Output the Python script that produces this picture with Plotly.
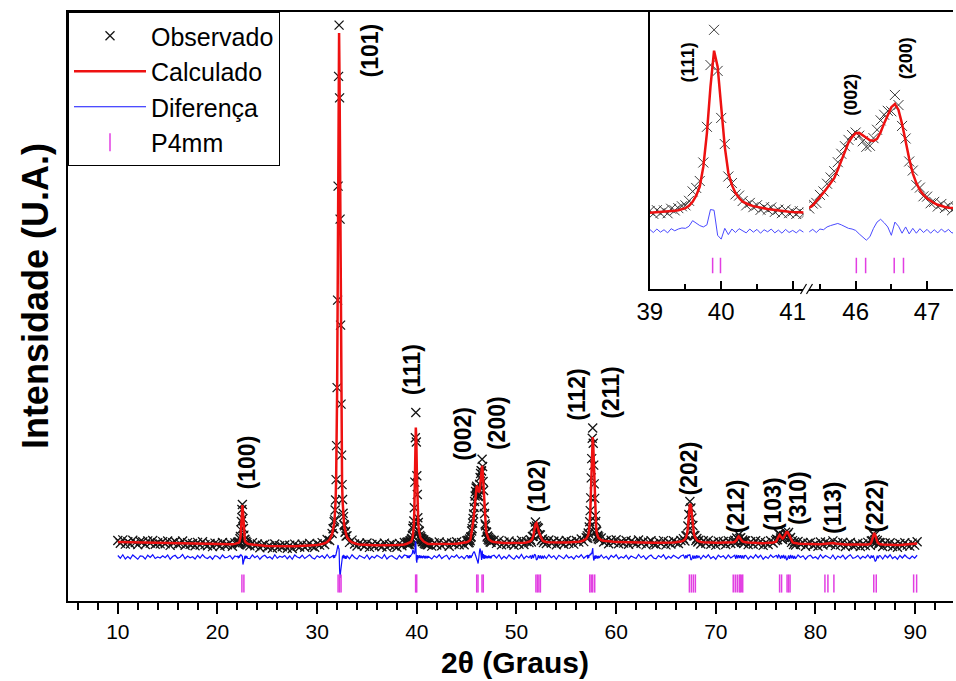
import numpy as np
import plotly.graph_objects as go

# ---------------- DATA ----------------
# Each block of the step scan: 2theta start/stop, observed counts, calculated counts
range_01 = (10.0, 22.0)
obs_01 = [990, 934, 1003, 917, 966, 920, 994, 948, 907, 971, 965, 909, 983, 937, 991, 915, 944, 923, 967, 926,
          980, 893, 947, 971, 909, 928, 981, 895, 948, 912, 930, 884, 952, 901, 964, 908, 886, 930, 868, 937,
          921, 875, 949, 894, 905, 942, 875, 942, 940]
calc_01 = [960, 959, 958, 957, 956, 955, 954, 953, 952, 951, 950, 949, 948, 947, 946, 945, 944, 943, 942, 941,
           940, 938, 937, 936, 934, 933, 931, 930, 928, 927, 925, 924, 922, 921, 919, 918, 916, 915, 913, 912,
           911, 910, 909, 909, 910, 912, 915, 922, 935]

range_02 = (22.05, 23.0)
obs_02 = [957, 908, 966, 944, 1025, 1072, 1202, 1369, 1610, 1710, 1430, 1229, 1097, 1012, 1010, 924, 976, 918, 947, 903]
calc_02 = [932, 938, 946, 959, 985, 1042, 1157, 1349, 1580, 1700, 1580, 1349, 1157, 1042, 985, 959, 946, 938, 932, 928]

range_03 = (23.25, 31.5)
obs_03 = [883, 946, 885, 920, 844, 896, 918, 860, 883, 836, 919, 847, 886, 865, 900, 835, 895, 830, 917, 878,
          860, 916, 854, 895, 933, 876, 855, 925, 898, 948, 909, 1010, 989, 1130]
calc_03 = [913, 906, 900, 895, 889, 886, 883, 880, 878, 876, 874, 872, 871, 870, 870, 870, 875, 875, 877, 878,
           880, 881, 884, 885, 888, 891, 895, 900, 908, 918, 934, 960, 1009, 1115]

range_04 = (31.6, 32.9)
obs_04 = [1226, 1228, 1365, 1402, 1599, 1801, 2208, 2888, 4047, 5798, 8077, 10273, 11298, 9843, 7417, 5298,
          3717, 2698, 2108, 1811, 1534, 1467, 1305, 1283, 1156, 1171, 1080]
calc_04 = [1196, 1253, 1325, 1422, 1564, 1781, 2148, 2798, 3897, 5598, 7837, 10093, 11138, 10093, 7837, 5598,
           3897, 2798, 2148, 1781, 1564, 1422, 1325, 1253, 1196, 1151, 1115]

range_05 = (33.0, 38.75)
obs_05 = [1083, 953, 997, 921, 879, 941, 911, 876, 939, 852, 911, 875, 929, 888, 864, 938, 853, 906, 922, 883,
          855, 932, 884, 949]
calc_05 = [1063, 988, 952, 931, 919, 911, 906, 901, 899, 897, 896, 895, 894, 893, 894, 893, 893, 896, 897, 898,
           900, 902, 904, 909]

range_06 = (39.0, 41.2)
obs_06 = [950, 908, 961, 919, 957, 916, 981, 957, 990, 1017, 1030, 1095, 1230, 1280, 1380, 1645, 2157, 3044,
          3550, 2960, 2285, 1910, 1444, 1350, 1187, 1170, 1092, 1030, 1065, 1004, 1031, 965, 1005, 967, 999,
          936, 968, 918, 968, 918, 944, 905, 946, 907, 925]
calc_06 = [925, 928, 931, 934, 937, 941, 946, 952, 960, 972, 990, 1025, 1080, 1170, 1300, 1585, 2067, 2734,
           3250, 3020, 2400, 1870, 1494, 1320, 1207, 1135, 1082, 1055, 1035, 1019, 1006, 995, 985, 977, 969,
           961, 953, 948, 943, 938, 934, 930, 926, 922, 920]

range_07 = (41.5, 45.0)
obs_07 = [878, 942, 901, 961, 886, 927, 953, 874, 941, 918, 966, 904, 949, 906, 983]
calc_07 = [918, 917, 916, 916, 916, 917, 918, 919, 921, 923, 926, 929, 934, 941, 953]

range_08 = (45.1, 47.5)
obs_08 = [992, 942, 993, 950, 1021, 985, 1055, 1065, 1180, 1230, 1340, 1430, 1520, 1650, 1770, 1880, 1970,
          2040, 2075, 2030, 1950, 1870, 1885, 1995, 2115, 2250, 2330, 2387, 2380, 2615, 2470, 2170, 1990,
          1660, 1530, 1320, 1285, 1160, 1155, 1060, 1080, 1013, 1050, 992, 1022, 960, 1004, 953, 988]
calc_08 = [962, 967, 973, 980, 986, 995, 1030, 1085, 1150, 1210, 1280, 1350, 1420, 1540, 1680, 1820, 1930,
           2010, 2065, 2070, 2040, 2000, 1965, 1955, 1985, 2080, 2210, 2327, 2440, 2485, 2400, 2200, 1930,
           1700, 1490, 1350, 1250, 1180, 1130, 1090, 1060, 1038, 1020, 1007, 997, 990, 984, 978, 973]

range_09 = (47.75, 51.25)
obs_09 = [995, 932, 992, 904, 957, 910, 979, 929, 894, 965, 916, 993, 911, 971, 947]
calc_09 = [960, 952, 947, 944, 942, 940, 939, 939, 939, 940, 941, 943, 946, 951, 962]

range_10 = (51.4, 52.8)
obs_10 = [1005, 960, 1070, 1075, 1260, 1360, 1280, 1250, 1235, 1105, 1100, 990, 1020, 948, 988]
calc_10 = [975, 995, 1030, 1095, 1210, 1320, 1340, 1290, 1200, 1130, 1070, 1025, 995, 978, 968]

range_11 = (53.0, 57.0)
obs_11 = [930, 1000, 937, 975, 904, 984, 944, 915, 991, 932, 964, 917, 991, 957, 1021, 967, 1045]
calc_11 = [960, 955, 952, 950, 949, 949, 949, 950, 951, 952, 954, 957, 961, 967, 976, 992, 1025]

range_12 = (57.1, 58.3)
obs_12 = [1082, 1036, 1139, 1123, 1261, 1366, 1587, 1842, 2243, 2627, 3035, 3240, 2935, 2497, 2123, 1832,
          1487, 1371, 1191, 1173, 1064, 1091, 1022, 1063, 1007]
calc_12 = [1052, 1071, 1099, 1143, 1216, 1336, 1527, 1802, 2163, 2567, 2915, 3060, 2915, 2567, 2163, 1802,
           1527, 1336, 1216, 1143, 1099, 1071, 1052, 1038, 1027]

range_13 = (58.5, 66.75)
obs_13 = [1040, 960, 991, 925, 996, 953, 1006, 924, 963, 937, 991, 915, 974, 948, 922, 1001, 935, 974, 903,
          957, 986, 925, 909, 973, 933, 988, 903, 959, 921, 984, 948, 929, 989, 1028]
calc_13 = [1000, 985, 976, 970, 966, 963, 961, 959, 958, 957, 956, 955, 954, 953, 952, 951, 950, 949, 948,
           947, 946, 945, 944, 943, 943, 943, 943, 944, 946, 949, 953, 959, 969, 988]

range_14 = (66.9, 68.3)
obs_14 = [980, 1080, 1090, 1280, 1510, 1770, 1640, 1440, 1290, 1095, 1085, 990, 1030, 960, 995]
calc_14 = [1010, 1045, 1110, 1240, 1480, 1720, 1700, 1480, 1260, 1130, 1060, 1020, 995, 980, 970]

range_15 = (68.5, 71.75)
obs_15 = [920, 985, 935, 992, 915, 954, 898, 978, 938, 969, 910, 987, 930, 971]
calc_15 = [960, 955, 950, 947, 945, 944, 943, 943, 943, 944, 945, 947, 950, 956]

range_16 = (71.9, 72.9)
obs_16 = [995, 940, 1040, 1020, 1105, 1030, 1045, 955, 1000, 930, 985]
calc_16 = [960, 975, 1000, 1045, 1070, 1050, 1010, 985, 970, 962, 957]

range_17 = (73.0, 76.0)
obs_17 = [983, 908, 964, 916, 984, 923, 972, 892, 948, 910, 984, 941, 988]
calc_17 = [953, 948, 944, 941, 939, 938, 937, 937, 938, 940, 944, 951, 963]

range_18 = (76.1, 77.9)
obs_18 = [1015, 1005, 1125, 1120, 1040, 1070, 1010, 1085, 1050, 1155, 1100, 1120, 1150, 1025, 1050, 953,
          988, 911, 960]
calc_18 = [985, 1030, 1085, 1100, 1075, 1040, 1030, 1045, 1080, 1130, 1160, 1160, 1120, 1060, 1010, 978,
           958, 946, 940]

range_19 = (78.0, 85.5)
obs_19 = [900, 970, 916, 948, 876, 934, 952, 891, 920, 875, 961, 900, 958, 933, 915, 982, 887, 944, 903,
          949, 871, 919, 952, 881, 895, 935, 870, 921, 888, 952, 892]
calc_19 = [935, 930, 926, 923, 921, 919, 917, 916, 915, 915, 916, 920, 928, 938, 945, 942, 932, 924, 918,
           914, 911, 909, 907, 906, 905, 905, 905, 906, 908, 912, 922]

range_20 = (85.6, 86.4)
obs_20 = [980, 985, 1120, 1090, 1010, 960, 990, 910, 950]
calc_20 = [950, 1000, 1090, 1140, 1100, 1020, 965, 935, 922]

range_21 = (86.5, 90.2)
obs_21 = [940, 870, 941, 888, 946, 870, 910, 855, 931, 883, 945, 898, 877, 937, 898, 965]
calc_21 = [915, 910, 906, 903, 901, 900, 900, 900, 901, 903, 905, 908, 912, 917, 923, 930]

# Bragg reflection positions of the P4mm phase (2theta, degrees)
reflections_p4mm = [22.45, 22.65, 32.1, 32.25, 32.4, 39.88, 39.99, 46.01, 46.14, 46.54, 46.67,
                    51.95, 52.1, 52.25, 52.4, 57.35, 57.5, 57.65, 57.85, 67.35, 67.55, 67.75, 67.95,
                    71.75, 71.95, 72.15, 72.35, 72.45, 72.55, 72.7, 76.4, 76.6, 77.15, 77.3, 77.45,
                    80.95, 81.25, 81.85, 85.85, 86.1, 89.85, 90.15]

# Miller-index labels
hkl_main = ["(100)", "(101)", "(111)", "(002)", "(200)", "(102)", "(112)", "(211)",
            "(202)", "(212)", "(103)", "(310)", "(113)", "(222)"]
hkl_inset = ["(111)", "(002)", "(200)"]

# ---------------- BUILD SERIES ----------------
segments = [(range_01, obs_01, calc_01), (range_02, obs_02, calc_02), (range_03, obs_03, calc_03),
            (range_04, obs_04, calc_04), (range_05, obs_05, calc_05), (range_06, obs_06, calc_06),
            (range_07, obs_07, calc_07), (range_08, obs_08, calc_08), (range_09, obs_09, calc_09),
            (range_10, obs_10, calc_10), (range_11, obs_11, calc_11), (range_12, obs_12, calc_12),
            (range_13, obs_13, calc_13), (range_14, obs_14, calc_14), (range_15, obs_15, calc_15),
            (range_16, obs_16, calc_16), (range_17, obs_17, calc_17), (range_18, obs_18, calc_18),
            (range_19, obs_19, calc_19), (range_20, obs_20, calc_20), (range_21, obs_21, calc_21)]

two_theta, y_obs, y_calc = [], [], []
for (a, b), o, c in segments:
    assert len(o) == len(c), (a, b, len(o), len(c))
    two_theta.extend(np.linspace(a, b, len(o)).tolist())
    y_obs.extend(o)
    y_calc.extend(c)
two_theta = np.array(two_theta)
y_obs = np.array(y_obs, dtype=float)
y_calc = np.array(y_calc, dtype=float)

DIFF_OFFSET = 660
y_diff = y_obs - y_calc + DIFF_OFFSET

# ---------------- LAYOUT CONSTANTS ----------------
FONT = "Liberation Sans, Arial, Helvetica, sans-serif"
W, H = 956, 681
ML, MR, MT, MB = 68, 0, 12, 80
PW, PH = W - ML - MR, H - MT - MB


def pxx(px):
    return (px - ML) / PW


def pxy(py):
    return (H - MB - py) / PH


OBS_C = "#151515"
CALC_C = "#ee1111"
DIFF_C = "#1010ff"
TICK_C = "#e23ee2"

fig = go.Figure()
# main panel
fig.add_trace(go.Scatter(x=two_theta, y=y_obs, mode="markers", name="Observado",
                         marker=dict(symbol="x-thin-open", size=9, color=OBS_C,
                                     line=dict(width=1.3, color=OBS_C))))
fig.add_trace(go.Scatter(x=two_theta, y=y_calc, mode="lines", name="Calculado",
                         line=dict(color=CALC_C, width=2.5)))
fig.add_trace(go.Scatter(x=two_theta, y=y_diff, mode="lines", name="Diferença",
                         line=dict(color=DIFF_C, width=1.2)))
fig.add_trace(go.Scatter(x=reflections_p4mm, y=[130] * len(reflections_p4mm), mode="markers", name="P4mm",
                         marker=dict(symbol="line-ns-open", size=13, color=TICK_C,
                                     line=dict(width=1.5, color=TICK_C))))

# inset (broken axis: two x segments sharing one y axis)
for xa in ("x2", "x3"):
    fig.add_trace(go.Scatter(x=two_theta, y=y_obs, xaxis=xa, yaxis="y2", mode="markers", showlegend=False,
                             marker=dict(symbol="x-thin-open", size=10, color="#3a3a3a",
                                         line=dict(width=1, color="#3a3a3a"))))
    fig.add_trace(go.Scatter(x=two_theta, y=y_calc, xaxis=xa, yaxis="y2", mode="lines", showlegend=False,
                             line=dict(color=CALC_C, width=2.5)))
    fig.add_trace(go.Scatter(x=two_theta, y=y_diff, xaxis=xa, yaxis="y2", mode="lines", showlegend=False,
                             line=dict(color="#4a4aff", width=1)))
    fig.add_trace(go.Scatter(x=reflections_p4mm, y=[166] * len(reflections_p4mm), xaxis=xa, yaxis="y2",
                             mode="markers", showlegend=False,
                             marker=dict(symbol="line-ns-open", size=11, color=TICK_C,
                                         line=dict(width=1.5, color=TICK_C))))

# peak labels (positions are layout)
main_label_pos = [(22.95, 2550), (35.3, 10790), (39.5, 4410), (44.6, 3120), (48.0, 3330), (52.1, 2100),
                  (56.0, 3910), (59.4, 3950), (67.3, 2430), (72.0, 1670), (75.7, 1710), (78.2, 1830),
                  (81.7, 1650), (85.9, 1690)]
annotations = []
for txt, (lx, ly) in zip(hkl_main, main_label_pos):
    annotations.append(dict(text="<b>%s</b>" % txt, x=lx, y=ly, xref="x", yref="y", showarrow=False,
                            textangle=-90, xanchor="center", yanchor="middle",
                            font=dict(size=23, family=FONT, color="black")))
inset_label_pos = [("x2", 39.534, 3081), ("x3", 45.933, 2614), ("x3", 46.717, 3139)]
for txt, (xr, lx, ly) in zip(hkl_inset, inset_label_pos):
    annotations.append(dict(text="<b>%s</b>" % txt, x=lx, y=ly, xref=xr, yref="y2", showarrow=False,
                            textangle=-90, xanchor="center", yanchor="middle",
                            font=dict(size=18, family=FONT, color="black")))
annotations.append(dict(text="<b>Intensidade (U.A.)</b>", x=pxx(35), y=pxy(296), xref="paper", yref="paper",
                        showarrow=False, textangle=-90, xanchor="center", yanchor="middle",
                        font=dict(size=36, family=FONT, color="black")))
annotations.append(dict(text="<b>2θ (Graus)</b>", x=pxx(517), y=pxy(663), xref="paper", yref="paper",
                        showarrow=False, xanchor="center", yanchor="middle",
                        font=dict(size=30, family=FONT, color="black")))

shapes = [
    dict(type="line", xref="paper", yref="paper", x0=pxx(803), y0=pxy(294), x1=pxx(809), y1=pxy(284),
         line=dict(color="black", width=1.2)),
    dict(type="line", xref="paper", yref="paper", x0=pxx(809), y0=pxy(294), x1=pxx(815), y1=pxy(284),
         line=dict(color="black", width=1.2)),
]

inset_x_common = dict(anchor="y2", showline=True, linecolor="black", linewidth=1.5, ticks="inside",
                      ticklen=8, tickwidth=1.5, tickcolor="black", dtick=1, tick0=39,
                      tickfont=dict(size=24, family=FONT, color="black"),
                      minor=dict(dtick=0.5, tick0=39, ticks="inside", ticklen=5, tickwidth=1.5,
                                 tickcolor="black"),
                      showgrid=False, zeroline=False)

fig.update_layout(
    width=W, height=H, margin=dict(l=ML, r=MR, t=MT, b=MB),
    paper_bgcolor="white", plot_bgcolor="white",
    font=dict(family=FONT, color="black"),
    showlegend=True,
    legend=dict(x=0, y=1, xanchor="left", yanchor="top", bordercolor="black", borderwidth=1,
                bgcolor="white", font=dict(size=25, family=FONT, color="black"), itemwidth=72,
                tracegroupgap=0),
    xaxis=dict(domain=[0, 1], range=[5, 93.8], showline=True, linecolor="black", linewidth=2, mirror=True,
               ticks="outside", ticklen=11, tickwidth=2, tickcolor="black", dtick=10, tick0=0,
               tickfont=dict(size=21, family=FONT, color="black"), ticklabelstandoff=0,
               minor=dict(dtick=2, tick0=0, ticks="outside", ticklen=7, tickwidth=2, tickcolor="black"),
               showgrid=False, zeroline=False),
    yaxis=dict(domain=[0, 1], range=[-220, 11560], showline=True, linecolor="black", linewidth=2,
               ticks="", showticklabels=False, showgrid=False, zeroline=False),
    xaxis2=dict(domain=[pxx(651.7), pxx(805.9)], range=[39, 41.15], **inset_x_common),
    xaxis3=dict(domain=[pxx(811.7), 1.0], range=[45.35, 47.363], **inset_x_common),
    yaxis2=dict(domain=[pxy(289), 1.0], range=[-171, 3806], anchor="x2", showline=True, linecolor="black",
                linewidth=1.5, ticks="", showticklabels=False, showgrid=False, zeroline=False),
    annotations=annotations,
    shapes=shapes,
)

fig.write_html("out.html")
